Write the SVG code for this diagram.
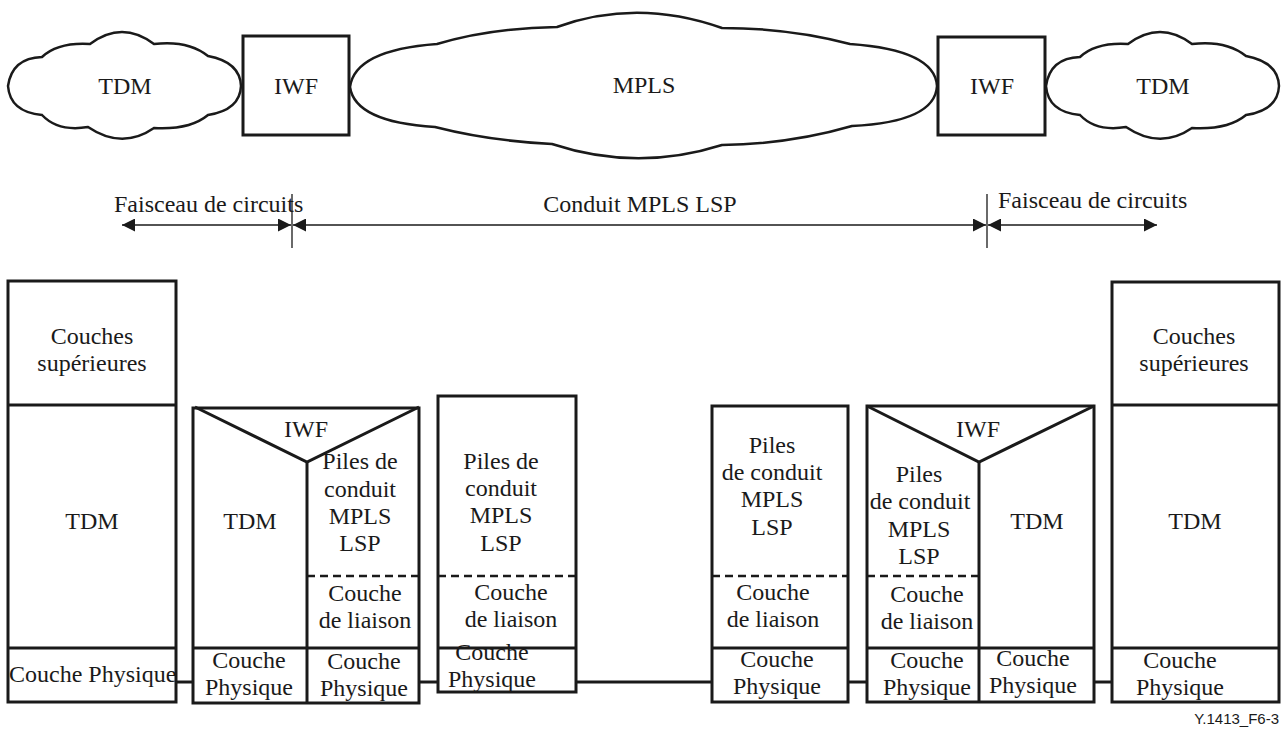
<svg xmlns="http://www.w3.org/2000/svg" width="1281" height="729" viewBox="0 0 1281 729">
<style>
.t{font-family:"Liberation Serif","Times New Roman",serif;font-size:24px;fill:#1a1a1a;text-anchor:middle}
.ts{text-anchor:start}
.box{fill:none;stroke:#1a1a1a;stroke-width:3}
.ln{stroke:#1a1a1a;stroke-width:3;fill:none}
.dash{stroke:#1a1a1a;stroke-width:2.5;stroke-dasharray:8,5;fill:none}
.cloud{fill:#fff;stroke:#1a1a1a;stroke-width:2.5}
.arr{stroke:#1a1a1a;stroke-width:1.6;fill:none;marker-start:url(#ah);marker-end:url(#ah)}
.tick{stroke:#1a1a1a;stroke-width:1.3}
.lbl{font-family:"Liberation Sans",Arial,sans-serif;font-size:15px;fill:#1a1a1a;text-anchor:end}
</style>
<defs>
<marker id="ah" viewBox="0 0 13 13" refX="13" refY="6.5" markerWidth="13" markerHeight="13" markerUnits="userSpaceOnUse" orient="auto-start-reverse">
<path d="M0,0 L13,6.5 L0,13 Z" fill="#1a1a1a"/>
</marker>
</defs>
<rect width="1281" height="729" fill="#fff"/>

<g id="cloud-tdm-left">
<path class="cloud" d="M8,86 Q12,58 42,57 Q58,42 90,44 Q122,20 154,44 Q188,40 208,56 Q240,62 241,86 Q240,110 208,115 Q190,130 154,128 Q122,150 88,127 Q58,132 42,115 Q10,112 8,86 Z"/>
<text class="t" x="125" y="94">TDM</text>
</g>
<g id="iwf-left">
<rect class="box" x="243" y="36" width="106" height="99"/>
<text class="t" x="296" y="94">IWF</text>
</g>
<g id="cloud-mpls">
<path class="cloud" d="M350,87 Q355,50 437,44 Q490,28 557,27 Q637,-2 722,28 Q790,28 850,44 Q935,50 937,86 Q935,122 852,126 Q790,144 722,145 Q637,172 552,144 Q490,141 435,127 Q355,122 350,87 Z"/>
<text class="t" x="644" y="93">MPLS</text>
</g>
<g id="iwf-right">
<rect class="box" x="938" y="37" width="107" height="98"/>
<text class="t" x="992" y="94">IWF</text>
</g>
<g id="cloud-tdm-right">
<path class="cloud" transform="translate(1038,0)" d="M8,86 Q12,58 42,57 Q58,42 90,44 Q122,20 154,44 Q188,40 208,56 Q240,62 241,86 Q240,110 208,115 Q190,130 154,128 Q122,150 88,127 Q58,132 42,115 Q10,112 8,86 Z"/>
<text class="t" x="1163" y="94">TDM</text>
</g>

<g id="spans">
<line class="tick" x1="292" y1="194" x2="292" y2="248"/>
<line class="tick" x1="987" y1="194" x2="987" y2="248"/>
<line class="arr" x1="122" y1="225" x2="291" y2="225"/>
<line class="arr" x1="293" y1="225" x2="986" y2="225"/>
<line class="arr" x1="988" y1="225" x2="1157" y2="225"/>
<text class="t ts" x="114" y="212">Faisceau de circuits</text>
<text class="t" x="640" y="212">Conduit MPLS LSP</text>
<text class="t ts" x="998" y="208">Faisceau de circuits</text>
</g>

<g id="connectors">
<line class="ln" x1="176" y1="682" x2="193" y2="682"/>
<line class="ln" x1="419" y1="682" x2="438" y2="682"/>
<line class="ln" x1="576" y1="682" x2="712" y2="682"/>
<line class="ln" x1="848" y1="682" x2="867" y2="682"/>
<line class="ln" x1="1094" y1="682" x2="1112" y2="682"/>
</g>

<g id="stack-1">
<rect class="box" x="8" y="281" width="168" height="421"/>
<line class="ln" x1="8" y1="405" x2="176" y2="405"/>
<line class="ln" x1="8" y1="648" x2="176" y2="648"/>
<text class="t" x="92" y="344">Couches<tspan x="92" dy="27">supérieures</tspan></text>
<text class="t" x="92" y="529">TDM</text>
<text class="t ts" x="9" y="682">Couche Physique</text>
</g>

<g id="stack-2">
<rect class="box" x="193" y="408" width="226" height="295"/>
<polyline class="ln" points="195,407 307,462 419,407"/>
<line class="ln" x1="307" y1="462" x2="307" y2="703"/>
<line class="dash" x1="307" y1="576" x2="419" y2="576"/>
<line class="ln" x1="193" y1="648" x2="419" y2="648"/>
<text class="t" x="306" y="437">IWF</text>
<text class="t" x="360" y="469">Piles de<tspan x="360" dy="28">conduit</tspan><tspan x="360" dy="27">MPLS</tspan><tspan x="360" dy="27">LSP</tspan></text>
<text class="t" x="365" y="601">Couche<tspan x="365" dy="27">de liaison</tspan></text>
<text class="t" x="250" y="529">TDM</text>
<text class="t" x="249" y="668">Couche<tspan x="249" dy="27">Physique</tspan></text>
<text class="t" x="364" y="669">Couche<tspan x="364" dy="27">Physique</tspan></text>
</g>

<g id="stack-3">
<rect class="box" x="438" y="396" width="138" height="296"/>
<line class="dash" x1="438" y1="576" x2="576" y2="576"/>
<line class="ln" x1="438" y1="648" x2="576" y2="648"/>
<text class="t" x="501" y="469">Piles de<tspan x="501" dy="27">conduit</tspan><tspan x="501" dy="27">MPLS</tspan><tspan x="501" dy="28">LSP</tspan></text>
<text class="t" x="511" y="600">Couche<tspan x="511" dy="27">de liaison</tspan></text>
<text class="t" x="492" y="660">Couche<tspan x="492" dy="27">Physique</tspan></text>
</g>

<g id="stack-4">
<rect class="box" x="712" y="406" width="136" height="296"/>
<line class="dash" x1="712" y1="576" x2="848" y2="576"/>
<line class="ln" x1="712" y1="648" x2="848" y2="648"/>
<text class="t" x="772" y="453">Piles<tspan x="772" dy="27">de conduit</tspan><tspan x="772" dy="27">MPLS</tspan><tspan x="772" dy="28">LSP</tspan></text>
<text class="t" x="773" y="600">Couche<tspan x="773" dy="27">de liaison</tspan></text>
<text class="t" x="777" y="667">Couche<tspan x="777" dy="27">Physique</tspan></text>
</g>

<g id="stack-5">
<rect class="box" x="867" y="406" width="227" height="296"/>
<polyline class="ln" points="867,406 979,462 1094,406"/>
<line class="ln" x1="979" y1="462" x2="979" y2="702"/>
<line class="dash" x1="867" y1="576" x2="979" y2="576"/>
<line class="ln" x1="867" y1="648" x2="1094" y2="648"/>
<text class="t" x="978" y="437">IWF</text>
<text class="t" x="919" y="482">Piles<tspan x="920" dy="27">de conduit</tspan><tspan x="919" dy="28">MPLS</tspan><tspan x="919" dy="27">LSP</tspan></text>
<text class="t" x="927" y="602">Couche<tspan x="927" dy="27">de liaison</tspan></text>
<text class="t" x="1037" y="529">TDM</text>
<text class="t" x="927" y="668">Couche<tspan x="927" dy="27">Physique</tspan></text>
<text class="t" x="1033" y="666">Couche<tspan x="1033" dy="27">Physique</tspan></text>
</g>

<g id="stack-6">
<rect class="box" x="1112" y="282" width="167" height="420"/>
<line class="ln" x1="1112" y1="405" x2="1279" y2="405"/>
<line class="ln" x1="1112" y1="648" x2="1279" y2="648"/>
<text class="t" x="1194" y="344">Couches<tspan x="1194" dy="27">supérieures</tspan></text>
<text class="t" x="1195" y="529">TDM</text>
<text class="t" x="1180" y="668">Couche<tspan x="1180" dy="27">Physique</tspan></text>
</g>

<text class="lbl" x="1279" y="724">Y.1413_F6-3</text>
</svg>
